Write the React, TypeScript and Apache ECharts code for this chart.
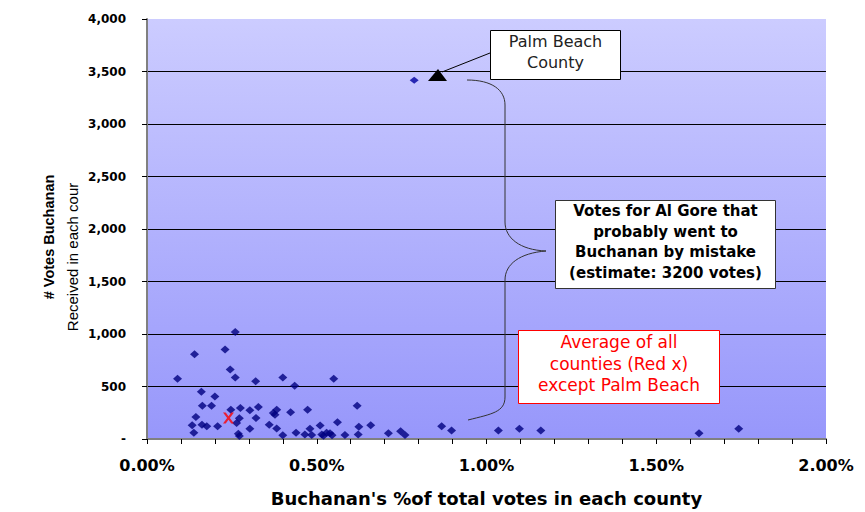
import React, { useEffect, useRef } from 'react';
import * as echarts from 'echarts';

// County data (Buchanan % of total votes, # Buchanan votes), excluding Palm Beach
const countyPct = [
  0.26, 0.14, 0.23, 0.245, 0.26, 0.09, 0.32, 0.40, 0.435, 0.55,
  0.16, 0.20, 0.163, 0.19, 0.144, 0.133, 0.162, 0.176, 0.138, 0.208,
  0.247, 0.275, 0.272, 0.264, 0.269, 0.272, 0.303, 0.328, 0.321, 0.303,
  0.36, 0.372, 0.382, 0.377, 0.382, 0.423, 0.40, 0.473, 0.439, 0.465,
  0.48, 0.485, 0.51, 0.515, 0.529, 0.539, 0.561, 0.583, 0.619, 0.624,
  0.622, 0.659, 0.711, 0.747, 0.76, 0.868, 0.897, 1.035, 1.097, 1.16,
  1.626, 1.743, 0.52, 0.545,
];
const countyVotes = [
  1020, 806, 853, 661, 586, 574, 549, 586, 508, 574,
  449, 405, 317, 317, 210, 132, 135, 122, 59, 122,
  279, 295, 198, 153, 50, 28, 273, 304, 200, 97,
  135, 247, 279, 232, 101, 254, 35, 279, 59, 44,
  97, 38, 129, 44, 59, 54, 160, 38, 317, 116,
  44, 132, 54, 75, 38, 122, 82, 82, 97, 82,
  54, 97, 30, 35,
];
const palmBeachPct = [0.787];
const palmBeachVotes = [3416];
const averagePct = [0.24];
const averageVotes = [200];

const xLabelSteps = [0, 0.5, 1, 1.5, 2];

const xTitle = "Buchanan's %of total votes in each county";
const yTitle1 = '# Votes Buchanan';
const yTitle2 = 'Received in each cour';
const palmText = 'Palm Beach\nCounty';
const goreText = 'Votes for Al Gore that\nprobably went to\nBuchanan by mistake\n(estimate: 3200 votes)';
const avgText = 'Average of all\ncounties (Red x)\nexcept Palm Beach';

export default function App() {
  const ref = useRef<HTMLDivElement>(null);
  useEffect(() => {
    const chart = echarts.init(ref.current!, null, { renderer: 'svg' });
    const txt = (x: number, y: number, text: string, o: any) => ({
      type: 'text',
      x,
      y,
      z: 101,
      rotation: o.rotation || 0,
      style: {
        text,
        fill: o.fill || '#000',
        fontSize: o.fontSize,
        fontFamily: o.fontFamily,
        fontWeight: o.fontWeight || 'normal',
        lineHeight: o.lineHeight,
        align: 'center',
        verticalAlign: 'middle',
        textAlign: 'center',
        textVerticalAlign: 'middle',
      },
    });
    const line = '#333';
    chart.setOption({
      animation: false,
      grid: {
        left: 147,
        right: 39,
        top: 19,
        bottom: 69,
        show: true,
        borderWidth: 0,
        backgroundColor: new echarts.graphic.LinearGradient(0, 0, 0, 1, [
          { offset: 0, color: '#ccccff' },
          { offset: 1, color: '#9797fb' },
        ]),
      },
      xAxis: {
        type: 'value',
        min: 0,
        max: 2,
        interval: 0.1,
        axisLine: { show: true, onZero: false, lineStyle: { color: '#808080', width: 2 } },
        axisTick: { show: true, length: 5, lineStyle: { color: '#000' } },
        splitLine: { show: false },
        axisLabel: {
          margin: 18,
          color: '#000',
          fontFamily: 'DejaVu Sans',
          fontWeight: 'bold',
          fontSize: 16,
          formatter: (v: number) =>
            xLabelSteps.some((s) => Math.abs(s - v) < 1e-6) ? v.toFixed(2) + '%' : '',
        },
        name: xTitle,
        nameLocation: 'middle',
        nameGap: 50,
        nameTextStyle: {
          color: '#000',
          fontFamily: 'DejaVu Sans',
          fontWeight: 'bold',
          fontSize: 18,
        },
      },
      yAxis: {
        type: 'value',
        min: 0,
        max: 4000,
        interval: 500,
        axisLine: { show: true, lineStyle: { color: '#808080', width: 2 } },
        axisTick: { show: true, length: 5, lineStyle: { color: '#000' } },
        splitLine: {
          show: true,
          showMinLine: false,
          showMaxLine: false,
          lineStyle: { color: '#000', width: 1 },
        },
        axisLabel: {
          margin: 21,
          color: '#000',
          fontFamily: 'DejaVu Sans',
          fontWeight: 'bold',
          fontSize: 12,
          formatter: (v: number) => (v === 0 ? '-' : v.toLocaleString('en-US')),
        },
      },
      series: [
        {
          type: 'scatter',
          name: 'Counties',
          symbol: 'diamond',
          symbolSize: [9, 8],
          itemStyle: { color: '#000080' },
          data: countyPct.map((p, i) => [p, countyVotes[i]]),
          z: 3,
        },
        {
          type: 'scatter',
          name: 'Palm Beach',
          symbol: 'diamond',
          symbolSize: [9, 7],
          itemStyle: { color: '#0000a0' },
          data: palmBeachPct.map((p, i) => [p, palmBeachVotes[i]]),
          z: 3,
        },
        {
          type: 'scatter',
          name: 'Average',
          symbol: 'path://M0,0L3,0L6,4L9,0L12,0L7.5,6L12,12L9,12L6,8L3,12L0,12L4.5,6Z',
          symbolSize: [11, 11],
          itemStyle: { color: '#ff0000' },
          data: averagePct.map((p, i) => [p, averageVotes[i]]),
          z: 4,
        },
      ],
      graphic: [
        // y-axis title (two lines)
        txt(49, 237, yTitle1, {
          rotation: Math.PI / 2,
          fontSize: 14.5,
          fontFamily: 'Liberation Sans',
          fontWeight: 'bold',
        }),
        txt(72, 257, yTitle2, {
          rotation: Math.PI / 2,
          fontSize: 15,
          fontFamily: 'Liberation Sans',
        }),
        // Palm Beach callout
        {
          type: 'line', z: 100,
          shape: { x1: 490, y1: 53, x2: 442, y2: 72 },
          style: { stroke: '#000', lineWidth: 1 },
        },
        {
          type: 'polygon', z: 100,
          shape: { points: [[428, 81], [447, 81], [438, 69]] },
          style: { fill: '#000' },
        },
        {
          type: 'rect', z: 100,
          shape: { x: 490.5, y: 30.5, width: 130, height: 49 },
          style: { fill: '#fff', stroke: '#000', lineWidth: 1 },
        },
        txt(555.5, 52, palmText, { fontSize: 16, fontFamily: 'DejaVu Sans', fill: '#222', lineHeight: 21 }),
        // brace
        {
          type: 'bezierCurve', z: 100,
          shape: { x1: 467, y1: 80, cpx1: 492, cpy1: 80, cpx2: 505, cpy2: 90, x2: 505, y2: 105 },
          style: { stroke: line, lineWidth: 1, fill: 'none' },
        },
        {
          type: 'line', z: 100,
          shape: { x1: 505, y1: 105, x2: 505, y2: 222 },
          style: { stroke: line, lineWidth: 1 },
        },
        {
          type: 'bezierCurve', z: 100,
          shape: { x1: 505, y1: 222, cpx1: 505, cpy1: 238, cpx2: 520, cpy2: 250, x2: 546, y2: 251 },
          style: { stroke: line, lineWidth: 1, fill: 'none' },
        },
        {
          type: 'bezierCurve', z: 100,
          shape: { x1: 546, y1: 251, cpx1: 520, cpy1: 253, cpx2: 505, cpy2: 264, x2: 505, y2: 280 },
          style: { stroke: line, lineWidth: 1, fill: 'none' },
        },
        {
          type: 'line', z: 100,
          shape: { x1: 505, y1: 280, x2: 505, y2: 397 },
          style: { stroke: line, lineWidth: 1 },
        },
        {
          type: 'bezierCurve', z: 100,
          shape: { x1: 505, y1: 397, cpx1: 505, cpy1: 412, cpx2: 492, cpy2: 414, x2: 468, y2: 420 },
          style: { stroke: line, lineWidth: 1, fill: 'none' },
        },
        // Gore box
        {
          type: 'rect', z: 100,
          shape: { x: 555.5, y: 200.5, width: 220, height: 88 },
          style: { fill: '#fff', stroke: '#333', lineWidth: 1 },
        },
        txt(665.5, 242, goreText, { fontSize: 15, fontFamily: 'DejaVu Sans', fontWeight: 'bold', lineHeight: 20.7 }),
        // Average box
        {
          type: 'rect', z: 100,
          shape: { x: 518.5, y: 330.5, width: 201, height: 73 },
          style: { fill: '#fff', stroke: '#ff0000', lineWidth: 1 },
        },
        txt(619, 363.5, avgText, { fontSize: 17, fontFamily: 'DejaVu Sans', fill: '#ff0000', lineHeight: 21.5 }),
      ],
    });
    return () => chart.dispose();
  }, []);
  return (
    <div
      ref={ref}
      style={{ position: 'absolute', left: 0, top: 0, width: 865, height: 512, background: '#fff' }}
    />
  );
}
